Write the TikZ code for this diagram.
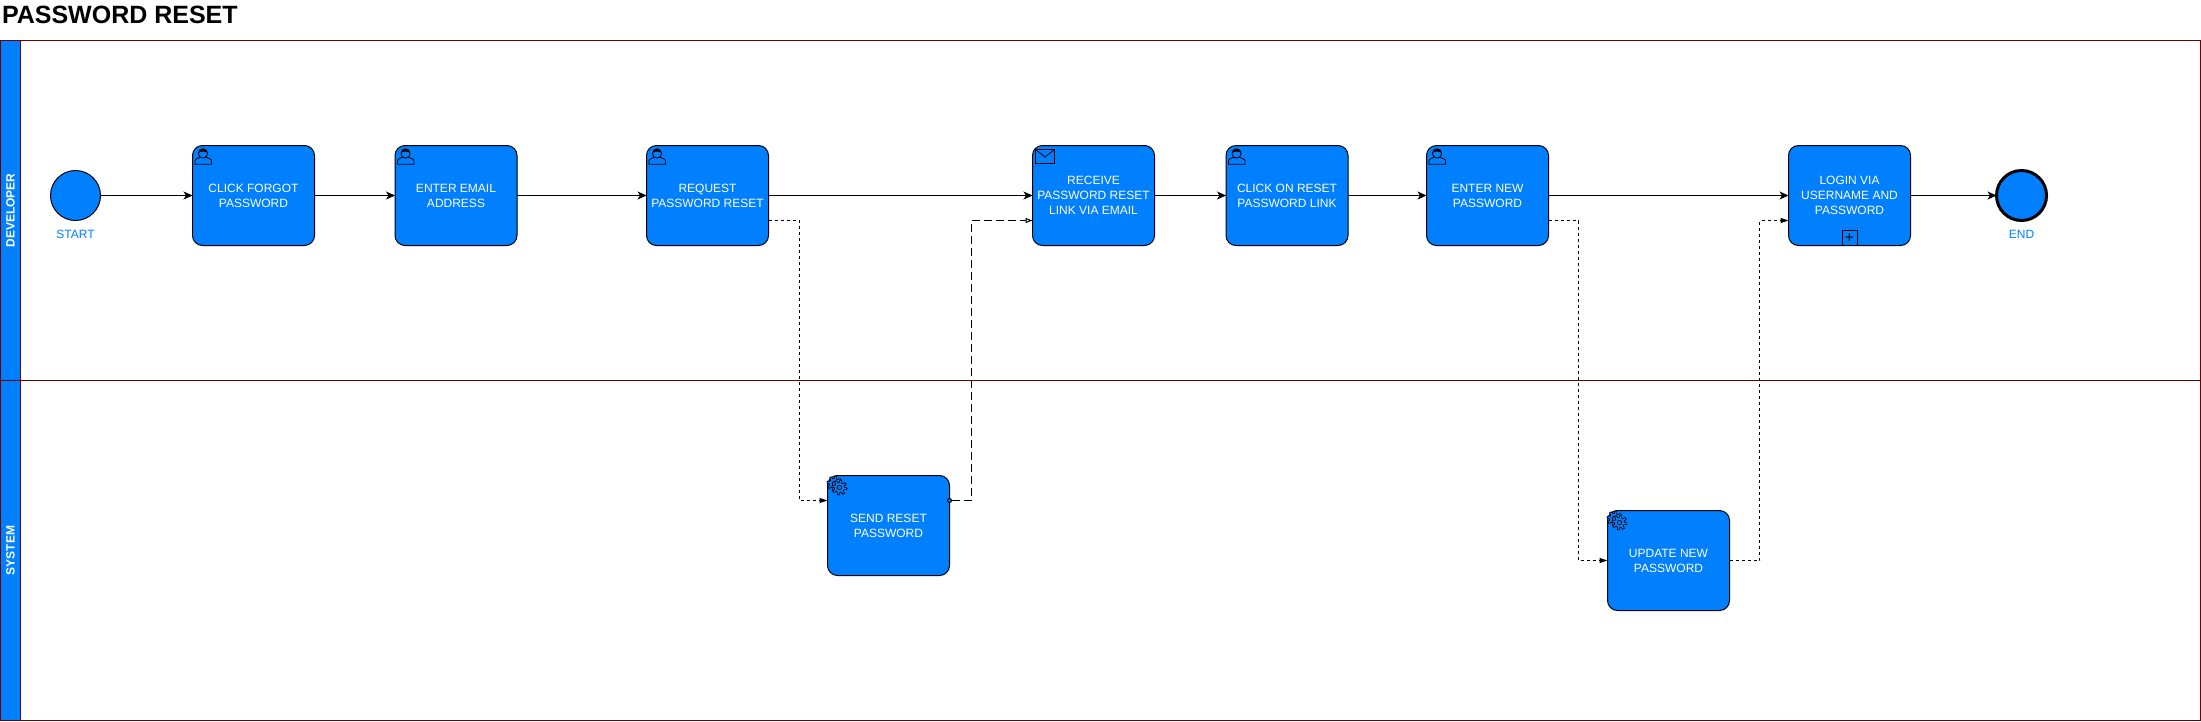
\documentclass[tikz,border=0pt]{standalone}
\usepackage{fontspec}
\setmainfont{Liberation Sans}
\usepackage{xcolor}
\usetikzlibrary{arrows.meta, positioning}
\definecolor{azure}{HTML}{007FFF}
\definecolor{maroon}{HTML}{6F0000}
\tikzset{
    gearwheel/.pic={
        \draw[fill=azure, line width=0.7pt] plot[samples=81, domain=0:360] ({(6.2+1.3*sign(sin(8*\x)))*cos(\x)}, {(6.2+1.3*sign(sin(8*\x)))*sin(\x)}) -- cycle;
        \draw[line width=0.7pt] (0,0) circle (2.2);
    },
    gearpic/.pic={
        \pic at (7,8) {gearwheel};
        \pic at (12,12) {gearwheel};
    },
    userpic/.pic={
        \draw[line width=0.8pt, fill=azure] (2.5,18.7) -- (2.5,15.5) .. controls (2.5,13) and (6,13) .. (8,11.5) -- (13,11.5) .. controls (15,13) and (19,13) .. (19,15.5) -- (19,18.7) -- cycle;
        \draw[line width=0.8pt, fill=azure] (10.5,8) circle (4.6);
        \fill[black] (6,7.5) .. controls (6,1.5) and (15,1.5) .. (15,7.5) .. controls (13,5.5) and (8,5.5) .. (6,7.5) -- cycle;
    },
    mailpic/.pic={
        \draw[line width=0.8pt] (3,4) rectangle (22,18);
        \draw[line width=0.8pt] (3,4) -- (12.5,11.5) -- (22,4);
    }
}
\begin{document}
\begin{tikzpicture}[
        x=1pt, y=-1pt,
        every node/.style={outer sep=0pt},
        taskbox/.style={draw=black, line width=1pt, rounded corners=10pt, fill=azure, text=white, minimum width=122pt, minimum height=100pt, align=center, inner sep=0pt, font=\fontsize{12}{15}\selectfont},
        startevent/.style={draw=black, line width=1pt, circle, fill=azure, minimum size=50pt, inner sep=0pt},
        endevent/.style={startevent, line width=3pt},
        eventlabel/.style={text=azure, inner sep=0pt, font=\fontsize{12}{15}\selectfont},
        laneheader/.style={draw=maroon, line width=1pt, fill=azure, text=white, rotate=90, minimum height=20pt, inner sep=0pt, font=\fontsize{12}{15}\selectfont\bfseries},
        plusbox/.style={draw=black, line width=1pt, fill=azure, minimum size=15pt, inner sep=0pt, font=\fontsize{15}{15}\selectfont},
        flowarrow/.style={-{Stealth[length=9pt, width=8pt, inset=2.5pt]}, line width=1pt, black},
        dottedarrow/.style={-{Stealth[length=8pt, width=5pt, inset=0pt]}, line width=1pt, dash pattern=on 3pt off 3pt},
        messagearrow/.style={{Circle[length=5pt, width=5pt, fill=azure]}-{Triangle[length=7pt, width=5pt, fill=white]}, line width=1pt, dash pattern=on 8pt off 4pt}
    ]
        \useasboundingbox (0,0) rectangle (2201,721);
        \node[anchor=west, inner sep=0pt, font=\fontsize{25}{25}\selectfont\bfseries] (title) at (2,15) {PASSWORD RESET};

        \draw[maroon, line width=1pt] (0.5,40.5) rectangle (2200.5,380.5);
        \draw[maroon, line width=1pt] (0.5,380.5) rectangle (2200.5,720.5);
        \node[laneheader, minimum width=340pt] (developer) at (10.5,210.5) {DEVELOPER};
        \node[laneheader, minimum width=340pt] (system) at (10.5,550.5) {SYSTEM};

        \node[startevent] (start) at (75.5,195.5) {};
        \node[eventlabel, below=10pt of start] (startlabel) {START};
        \node[taskbox, right=92pt of start] (forgot) {CLICK FORGOT\\PASSWORD};
        \node[taskbox, right=80.5pt of forgot] (email) {ENTER EMAIL\\ADDRESS};
        \node[taskbox, right=129.5pt of email] (request) {REQUEST\\PASSWORD RESET};
        \node[taskbox, right=264pt of request] (receive) {RECEIVE\\PASSWORD RESET\\LINK VIA EMAIL};
        \node[taskbox, right=71.5pt of receive] (resetlink) {CLICK ON RESET\\PASSWORD LINK};
        \node[taskbox, right=78.5pt of resetlink] (newpass) {ENTER NEW\\PASSWORD};
        \node[taskbox, right=240pt of newpass] (login) {LOGIN VIA\\USERNAME AND\\PASSWORD};
        \node[endevent, right=86pt of login] (end) {};
        \node[eventlabel, below=10pt of end] (endlabel) {END};
        \node[taskbox, below right=230pt and 59pt of request] (send) {SEND RESET\\PASSWORD};
        \node[taskbox, below right=265pt and 59pt of newpass] (update) {UPDATE NEW\\PASSWORD};
        \node[plusbox, above=0pt of login.south] (loginplus) {+};

        \pic at (forgot.north west) {userpic};
        \pic at (email.north west) {userpic};
        \pic at (request.north west) {userpic};
        \pic at (resetlink.north west) {userpic};
        \pic at (newpass.north west) {userpic};
        \pic at (receive.north west) {mailpic};
        \pic at (send.north west) {gearpic};
        \pic at (update.north west) {gearpic};

        \draw[flowarrow] (start) -- (forgot);
        \draw[flowarrow] (forgot) -- (email);
        \draw[flowarrow] (email) -- (request);
        \draw[flowarrow] (request) -- (receive);
        \draw[flowarrow] (receive) -- (resetlink);
        \draw[flowarrow] (resetlink) -- (newpass);
        \draw[flowarrow] (newpass) -- (login);
        \draw[flowarrow] (login) -- (end);
        \draw[dottedarrow] ([yshift=-25pt]request.east) -- ++(30.5,0) |- ([yshift=25pt]send.west);
        \draw[messagearrow] ([shift={(-2.5pt,25pt)}]send.east) -- ++(24,0) |- ([yshift=-25pt]receive.west);
        \draw[dottedarrow] ([yshift=-25pt]newpass.east) -- ++(30,0) |- (update.west);
        \draw[dottedarrow] (update.east) -- ++(30,0) |- ([yshift=-25pt]login.west);
    \end{tikzpicture}
\end{document}
